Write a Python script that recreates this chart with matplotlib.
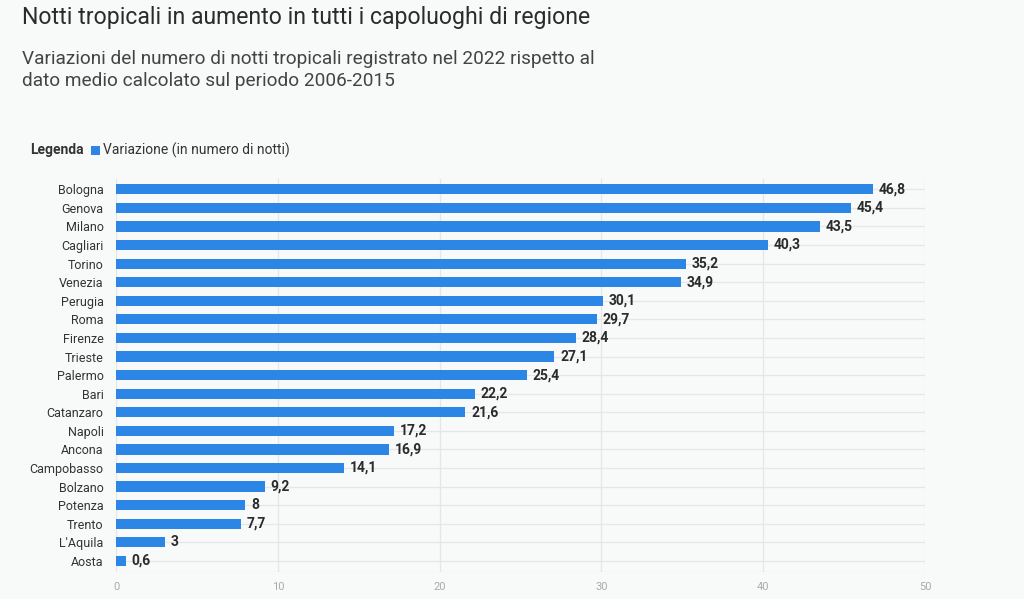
import matplotlib.pyplot as plt
from matplotlib.patches import Rectangle

plt.rcParams['font.family'] = ['Roboto', 'DejaVu Sans']

# dati
citta = ['Bologna', 'Genova', 'Milano', 'Cagliari', 'Torino', 'Venezia', 'Perugia',
         'Roma', 'Firenze', 'Trieste', 'Palermo', 'Bari', 'Catanzaro', 'Napoli',
         'Ancona', 'Campobasso', 'Bolzano', 'Potenza', 'Trento', "L'Aquila", 'Aosta']
variazione = [46.8, 45.4, 43.5, 40.3, 35.2, 34.9, 30.1, 29.7, 28.4, 27.1, 25.4,
              22.2, 21.6, 17.2, 16.9, 14.1, 9.2, 8, 7.7, 3, 0.6]
etichette = ['46,8', '45,4', '43,5', '40,3', '35,2', '34,9', '30,1', '29,7', '28,4',
             '27,1', '25,4', '22,2', '21,6', '17,2', '16,9', '14,1', '9,2', '8', '7,7',
             '3', '0,6']
xticks = [0, 10, 20, 30, 40, 50]

bg = '#f8f9f9'
blu = '#2b86e6'

fig = plt.figure(figsize=(10.24, 5.99), dpi=100, facecolor=bg)
ax = fig.add_axes([0.1133, 0.045, 0.79, 0.656], facecolor=bg)

y = list(range(len(citta)))
ax.barh(y, variazione, height=0.55, color=blu, zorder=3)
for yi, v, t in zip(y, variazione, etichette):
    ax.text(v + 0.35, yi, t, va='center', ha='left', fontsize=10,
            fontweight='bold', color='#2b2b2b', zorder=4)

ax.set_ylim(len(citta) - 0.4, -0.55)
ax.set_xlim(0, 50)
ax.set_yticks(y)
ax.set_yticklabels(citta, fontsize=9, color='#333333')
ax.set_xticks(xticks)
ax.set_xticklabels([str(t) for t in xticks], fontsize=8, color='#aaaaaa')
ax.tick_params(axis='both', length=0)
ax.tick_params(axis='y', pad=9)
ax.tick_params(axis='x', pad=7)

ax.grid(True, color='#e6e6e6', linewidth=0.9, zorder=0)
ax.axhline(len(citta) - 0.4, color='#e6e6e6', linewidth=0.9, zorder=0)
for s in ax.spines.values():
    s.set_visible(False)

# titoli
fig.text(0.0215, 0.99, 'Notti tropicali in aumento in tutti i capoluoghi di regione',
         fontsize=16.6, color='#2b2b2b', va='top')
fig.text(0.0215, 0.917, 'Variazioni del numero di notti tropicali registrato nel 2022 rispetto al\n'
         'dato medio calcolato sul periodo 2006-2015',
         fontsize=13.7, color='#444444', va='top', linespacing=1.3)

# legenda
fig.text(0.029, 0.749, 'Legenda', fontsize=10, fontweight='bold', color='#333333', va='center')
fig.patches.append(Rectangle((0.0885, 0.742), 0.0088, 0.015, transform=fig.transFigure,
                             facecolor=blu, edgecolor='none'))
fig.text(0.1005, 0.749, 'Variazione (in numero di notti)', fontsize=10, color='#333333', va='center')

fig.savefig('out.png', dpi=100, facecolor=bg)
